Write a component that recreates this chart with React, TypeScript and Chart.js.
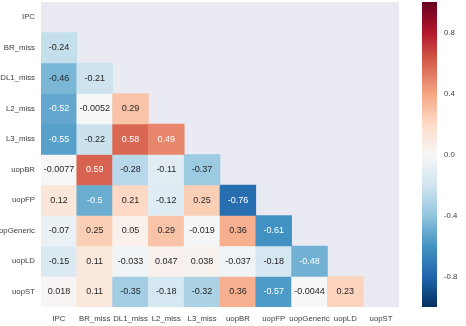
import { useEffect, useRef } from 'react';
import { Chart, registerables } from 'chart.js';

Chart.register(...registerables);

const VARIABLES = ['IPC', 'BR_miss', 'DL1_miss', 'L2_miss', 'L3_miss', 'uopBR', 'uopFP', 'uopGeneric', 'uopLD', 'uopST'];

// Correlation of each variable with the variables listed before it (lower triangle).
const IPC_CORR: number[] = [];
const BR_MISS_CORR = [-0.24];
const DL1_MISS_CORR = [-0.46, -0.21];
const L2_MISS_CORR = [-0.52, -0.0052, 0.29];
const L3_MISS_CORR = [-0.55, -0.22, 0.58, 0.49];
const UOPBR_CORR = [-0.0077, 0.59, -0.28, -0.11, -0.37];
const UOPFP_CORR = [0.12, -0.5, 0.21, -0.12, 0.25, -0.76];
const UOPGENERIC_CORR = [-0.07, 0.25, 0.05, 0.29, -0.019, 0.36, -0.61];
const UOPLD_CORR = [-0.15, 0.11, -0.033, 0.047, 0.038, -0.037, -0.18, -0.48];
const UOPST_CORR = [0.018, 0.11, -0.35, -0.18, -0.32, 0.36, -0.57, -0.0044, 0.23];

const COLORBAR_TICKS = [-0.8, -0.4, 0, 0.4, 0.8];
const COLOR_MIN = -1;
const COLOR_MAX = 1;

const ROWS: number[][] = [
  IPC_CORR,
  BR_MISS_CORR,
  DL1_MISS_CORR,
  L2_MISS_CORR,
  L3_MISS_CORR,
  UOPBR_CORR,
  UOPFP_CORR,
  UOPGENERIC_CORR,
  UOPLD_CORR,
  UOPST_CORR,
];

// Diverging red-blue palette, low values blue, high values red.
const RDBU_R = [
  '#053061', '#2166ac', '#4393c3', '#92c5de', '#d1e5f0', '#f7f7f7',
  '#fddbc7', '#f4a582', '#d6604d', '#b2182b', '#67001f',
];

const FONT = '"Liberation Sans", Arial, sans-serif';
const LABEL_COLOR = '#3d3d3d';
const FACE_COLOR = '#eaeaf2';

function hexToRgb(h: string): number[] {
  const n = parseInt(h.slice(1), 16);
  return [(n >> 16) & 255, (n >> 8) & 255, n & 255];
}

const STOPS = RDBU_R.map(hexToRgb);

function colorFor(v: number): number[] {
  const t = Math.min(1, Math.max(0, (v - COLOR_MIN) / (COLOR_MAX - COLOR_MIN)));
  const pos = t * (STOPS.length - 1);
  const i = Math.min(STOPS.length - 2, Math.floor(pos));
  const f = pos - i;
  return STOPS[i].map((c, k) => c + (STOPS[i + 1][k] - c) * f);
}

function rgbString(c: number[]): string {
  return `rgb(${Math.round(c[0])},${Math.round(c[1])},${Math.round(c[2])})`;
}

function luminance(c: number[]): number {
  const lin = c.map((x) => {
    const s = x / 255;
    return s <= 0.03928 ? s / 12.92 : Math.pow((s + 0.055) / 1.055, 2.4);
  });
  return 0.2126 * lin[0] + 0.7152 * lin[1] + 0.0722 * lin[2];
}

function fmt(v: number): string {
  return String(Number(v.toPrecision(2)));
}

const facePlugin = {
  id: 'face',
  beforeDraw(chart: any) {
    const { ctx, chartArea } = chart;
    ctx.save();
    ctx.fillStyle = FACE_COLOR;
    ctx.fillRect(chartArea.left, chartArea.top, chartArea.right - chartArea.left, chartArea.bottom - chartArea.top);
    ctx.restore();
  },
};

const annotatePlugin = {
  id: 'annotate',
  afterDatasetsDraw(chart: any) {
    const { ctx } = chart;
    ctx.save();
    ctx.font = `9px ${FONT}`;
    ctx.textAlign = 'center';
    ctx.textBaseline = 'middle';
    ROWS.forEach((row, i) => {
      const meta = chart.getDatasetMeta(i);
      row.forEach((v, j) => {
        const el = meta.data[j];
        if (!el) return;
        const p = el.getCenterPoint();
        ctx.fillStyle = luminance(colorFor(v)) > 0.408 ? '#262626' : '#ffffff';
        ctx.fillText(fmt(v), p.x, p.y);
      });
    });
    ctx.restore();
  },
};

const colorbarPlugin = {
  id: 'colorbar',
  afterDraw(chart: any) {
    const { ctx } = chart;
    const cb = chart.scales.cb;
    const x0 = cb.left + 23;
    const w = 15;
    const yTop = cb.getPixelForValue(COLOR_MAX);
    const yBot = cb.getPixelForValue(COLOR_MIN);
    const grad = ctx.createLinearGradient(0, yBot, 0, yTop);
    RDBU_R.forEach((c, k) => grad.addColorStop(k / (RDBU_R.length - 1), c));
    ctx.save();
    ctx.fillStyle = grad;
    ctx.fillRect(x0, yTop, w, yBot - yTop);
    ctx.restore();
  },
};

function noEdgePadding(s: any) {
  s.paddingTop = 0;
  s.paddingBottom = 0;
  s.paddingLeft = 0;
  s.paddingRight = 0;
}

export default function App() {
  const canvasRef = useRef<HTMLCanvasElement | null>(null);

  useEffect(() => {
    const canvas = canvasRef.current;
    if (!canvas) return;

    const datasets = ROWS.map((row, i) => ({
      label: VARIABLES[i],
      data: VARIABLES.map((_, j) => (j < row.length ? [i, i + 1] : null)),
      backgroundColor: VARIABLES.map((_, j) => (j < row.length ? rgbString(colorFor(row[j])) : 'rgba(0,0,0,0)')),
      borderWidth: 0,
      barPercentage: 1,
      categoryPercentage: 1,
      grouped: false,
    }));

    const tickFont = { family: FONT, size: 7.8 };

    const chart = new Chart(canvas, {
      type: 'bar',
      data: { labels: VARIABLES, datasets: datasets as any },
      plugins: [facePlugin, annotatePlugin, colorbarPlugin],
      options: {
        responsive: false,
        animation: false,
        events: [],
        layout: { padding: { top: 2, left: 0, right: 0, bottom: 0 } },
        plugins: { legend: { display: false }, tooltip: { enabled: false } },
        scales: {
          x: {
            type: 'category',
            grid: { display: false, drawTicks: false },
            border: { display: false },
            ticks: { color: LABEL_COLOR, font: tickFont, padding: 7, maxRotation: 0, autoSkip: false },
            afterFit: (s: any) => { s.height = 19; noEdgePadding(s); },
          },
          y: {
            type: 'linear',
            min: 0,
            max: VARIABLES.length,
            reverse: true,
            grid: { display: false, drawTicks: false },
            border: { display: false },
            ticks: {
              color: LABEL_COLOR,
              font: tickFont,
              padding: 6,
              callback: (v: any) => VARIABLES[Math.floor(Number(v))] ?? '',
            },
            afterBuildTicks: (s: any) => {
              s.ticks = VARIABLES.map((_, i) => ({ value: i + 0.5 }));
            },
            afterFit: (s: any) => { s.width = 41; noEdgePadding(s); },
          },
          cb: {
            type: 'linear',
            axis: 'y',
            position: 'right',
            min: COLOR_MIN,
            max: COLOR_MAX,
            grid: { display: false, drawTicks: false },
            border: { display: false },
            ticks: {
              color: LABEL_COLOR,
              font: tickFont,
              padding: 45,
              callback: (v: any) => Number(v).toFixed(1),
            },
            afterBuildTicks: (s: any) => {
              s.ticks = COLORBAR_TICKS.map((value) => ({ value }));
            },
            afterFit: (s: any) => { s.width = 67; noEdgePadding(s); },
          },
        } as any,
      },
    });

    return () => chart.destroy();
  }, []);

  return (
    <div style={{ position: 'absolute', left: 0, top: 0, width: 466, height: 326, background: '#ffffff' }}>
      <canvas ref={canvasRef} width={466} height={326} />
    </div>
  );
}
